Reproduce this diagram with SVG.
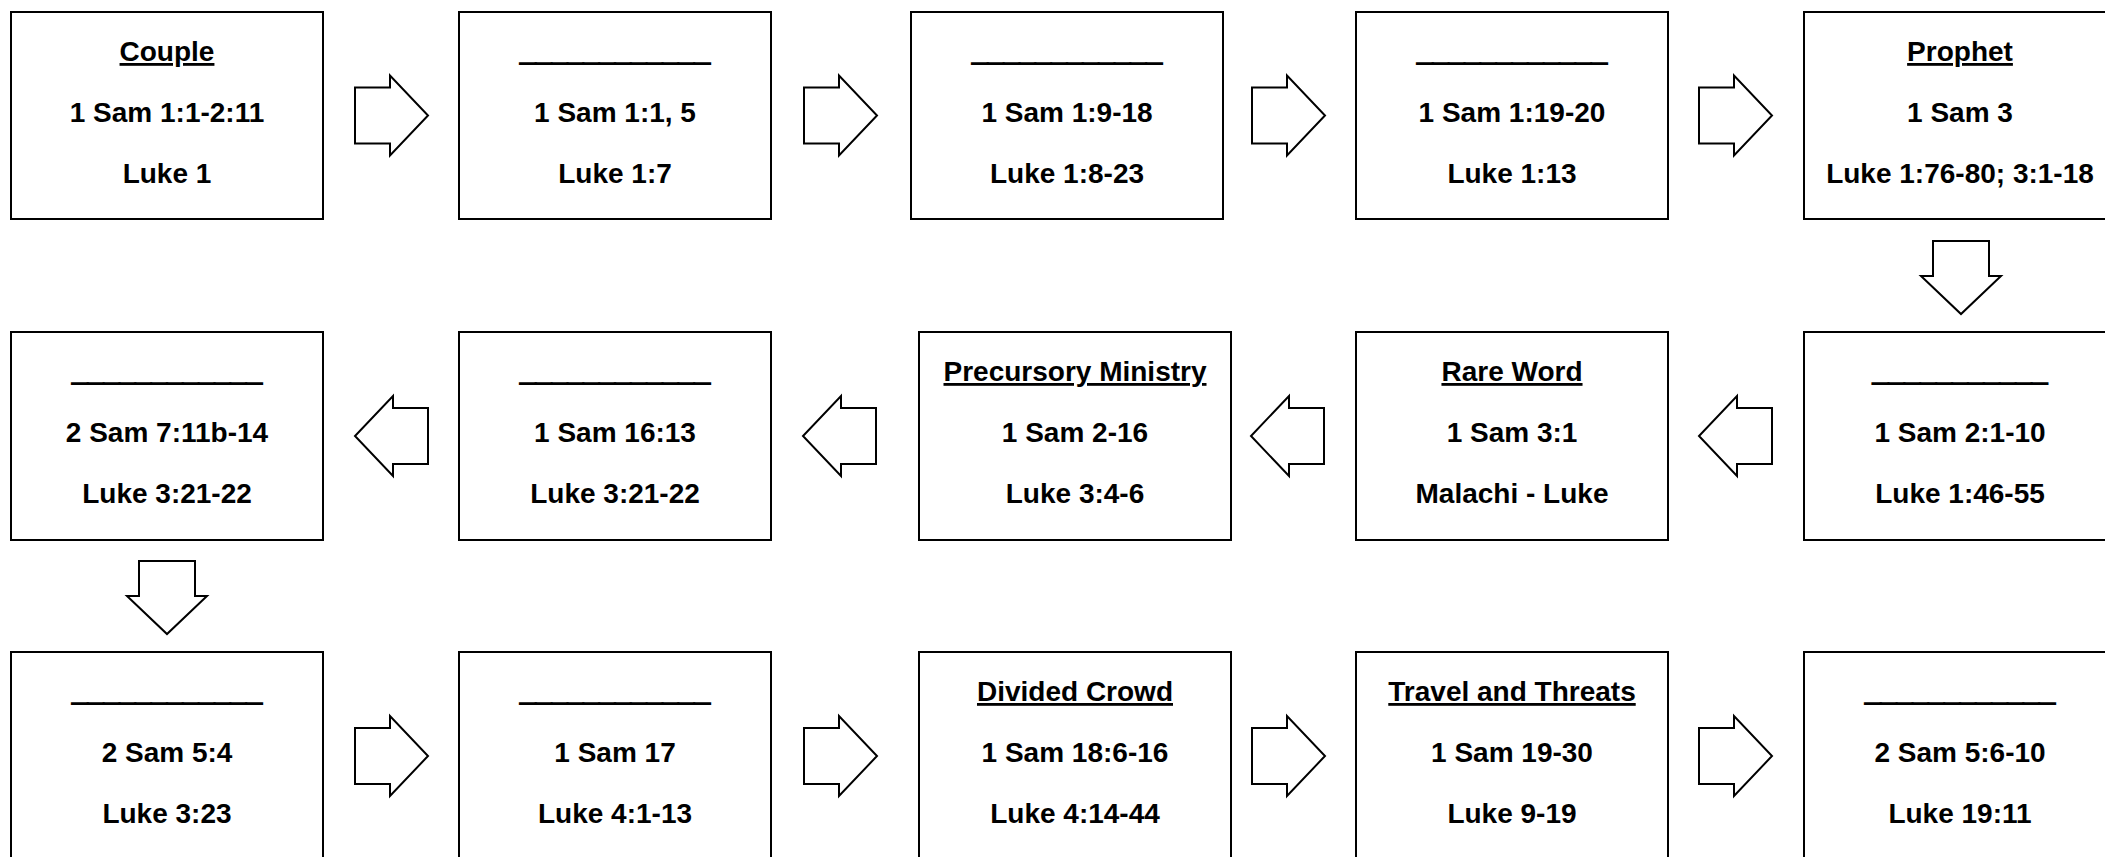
<svg xmlns="http://www.w3.org/2000/svg" xmlns:xlink="http://www.w3.org/1999/xlink" width="2105" height="857" viewBox="0 0 2105 857">
<style>
.box{fill:#fff;stroke:#000;stroke-width:2}
.arr{fill:#fff;stroke:#000;stroke-width:2;stroke-linejoin:miter}
text{font-family:"Liberation Sans",Arial,sans-serif;font-weight:bold;font-size:28px;fill:#000;text-anchor:middle}
.hd{text-decoration:underline}
.bl{stroke:#000;stroke-width:1.6}
</style>
<defs>
<path id="ar" d="M0,-28 H35 V-40 L73,0 L35,40 V28 H0 Z"/>
</defs>
<rect width="2105" height="857" fill="#fff"/>
<g id="connectors">
<use xlink:href="#ar" class="arr" transform="translate(355,115.5)"/>
<use xlink:href="#ar" class="arr" transform="translate(804,115.5)"/>
<use xlink:href="#ar" class="arr" transform="translate(1252,115.5)"/>
<use xlink:href="#ar" class="arr" transform="translate(1699,115.5)"/>
<use xlink:href="#ar" class="arr" transform="translate(1961,241) rotate(90)"/>
<use xlink:href="#ar" class="arr" transform="translate(1772,436) scale(-1,1)"/>
<use xlink:href="#ar" class="arr" transform="translate(1324,436) scale(-1,1)"/>
<use xlink:href="#ar" class="arr" transform="translate(876,436) scale(-1,1)"/>
<use xlink:href="#ar" class="arr" transform="translate(428,436) scale(-1,1)"/>
<use xlink:href="#ar" class="arr" transform="translate(167,561) rotate(90)"/>
<use xlink:href="#ar" class="arr" transform="translate(355,756)"/>
<use xlink:href="#ar" class="arr" transform="translate(804,756)"/>
<use xlink:href="#ar" class="arr" transform="translate(1252,756)"/>
<use xlink:href="#ar" class="arr" transform="translate(1699,756)"/>
</g>
<g id="n1"><rect class="box" x="11" y="12" width="312" height="207"/><text class="hd" x="167" y="61">Couple</text><text x="167" y="122">1 Sam 1:1-2:11</text><text x="167" y="183">Luke 1</text></g>
<g id="n2"><rect class="box" x="459" y="12" width="312" height="207"/><text class="bl" x="615" y="61" textLength="190" lengthAdjust="spacingAndGlyphs">____________</text><text x="615" y="122">1 Sam 1:1, 5</text><text x="615" y="183">Luke 1:7</text></g>
<g id="n3"><rect class="box" x="911" y="12" width="312" height="207"/><text class="bl" x="1067" y="61" textLength="190" lengthAdjust="spacingAndGlyphs">____________</text><text x="1067" y="122">1 Sam 1:9-18</text><text x="1067" y="183">Luke 1:8-23</text></g>
<g id="n4"><rect class="box" x="1356" y="12" width="312" height="207"/><text class="bl" x="1512" y="61" textLength="190" lengthAdjust="spacingAndGlyphs">____________</text><text x="1512" y="122">1 Sam 1:19-20</text><text x="1512" y="183">Luke 1:13</text></g>
<g id="n5"><rect class="box" x="1804" y="12" width="313" height="207"/><text class="hd" x="1960" y="61">Prophet</text><text x="1960" y="122">1 Sam 3</text><text x="1960" y="183">Luke 1:76-80; 3:1-18</text></g>
<g id="n6"><rect class="box" x="1804" y="332" width="313" height="208"/><text class="bl" x="1960" y="381" textLength="175" lengthAdjust="spacingAndGlyphs">___________</text><text x="1960" y="442">1 Sam 2:1-10</text><text x="1960" y="503">Luke 1:46-55</text></g>
<g id="n7"><rect class="box" x="1356" y="332" width="312" height="208"/><text class="hd" x="1512" y="381">Rare Word</text><text x="1512" y="442">1 Sam 3:1</text><text x="1512" y="503">Malachi - Luke</text></g>
<g id="n8"><rect class="box" x="919" y="332" width="312" height="208"/><text class="hd" x="1075" y="381">Precursory Ministry</text><text x="1075" y="442">1 Sam 2-16</text><text x="1075" y="503">Luke 3:4-6</text></g>
<g id="n9"><rect class="box" x="459" y="332" width="312" height="208"/><text class="bl" x="615" y="381" textLength="190" lengthAdjust="spacingAndGlyphs">____________</text><text x="615" y="442">1 Sam 16:13</text><text x="615" y="503">Luke 3:21-22</text></g>
<g id="n10"><rect class="box" x="11" y="332" width="312" height="208"/><text class="bl" x="167" y="381" textLength="190" lengthAdjust="spacingAndGlyphs">____________</text><text x="167" y="442">2 Sam 7:11b-14</text><text x="167" y="503">Luke 3:21-22</text></g>
<g id="n11"><rect class="box" x="11" y="652" width="312" height="208"/><text class="bl" x="167" y="701" textLength="190" lengthAdjust="spacingAndGlyphs">____________</text><text x="167" y="762">2 Sam 5:4</text><text x="167" y="823">Luke 3:23</text></g>
<g id="n12"><rect class="box" x="459" y="652" width="312" height="208"/><text class="bl" x="615" y="701" textLength="190" lengthAdjust="spacingAndGlyphs">____________</text><text x="615" y="762">1 Sam 17</text><text x="615" y="823">Luke 4:1-13</text></g>
<g id="n13"><rect class="box" x="919" y="652" width="312" height="208"/><text class="hd" x="1075" y="701">Divided Crowd</text><text x="1075" y="762">1 Sam 18:6-16</text><text x="1075" y="823">Luke 4:14-44</text></g>
<g id="n14"><rect class="box" x="1356" y="652" width="312" height="208"/><text class="hd" x="1512" y="701">Travel and Threats</text><text x="1512" y="762">1 Sam 19-30</text><text x="1512" y="823">Luke 9-19</text></g>
<g id="n15"><rect class="box" x="1804" y="652" width="313" height="208"/><text class="bl" x="1960" y="701" textLength="190" lengthAdjust="spacingAndGlyphs">____________</text><text x="1960" y="762">2 Sam 5:6-10</text><text x="1960" y="823">Luke 19:11</text></g>
</svg>
